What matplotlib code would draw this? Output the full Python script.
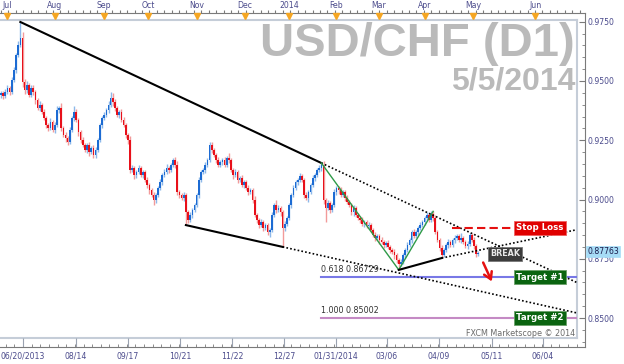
import numpy as np
import matplotlib.pyplot as plt
from matplotlib.ticker import FixedLocator, MultipleLocator
import matplotlib.transforms as mtransforms

# USD/CHF daily bars, end of Jun 2013 -> 5 May 2014
first_open = 0.9440
closes = [
    0.9449, 0.9437, 0.9454, 0.9470, 0.9454, 0.9504, 0.9546, 0.9610, 0.9652, 0.9681,
    0.9496, 0.9462, 0.9483, 0.9441, 0.9470, 0.9454, 0.9420, 0.9386, 0.9399, 0.9369,
    0.9344, 0.9314, 0.9302, 0.9327, 0.9293, 0.9314, 0.9378, 0.9386, 0.9302, 0.9272,
    0.9259, 0.9243, 0.9293, 0.9344, 0.9369, 0.9335, 0.9285, 0.9251, 0.9230, 0.9209,
    0.9230, 0.9200, 0.9217, 0.9188, 0.9209, 0.9251, 0.9314, 0.9344, 0.9357, 0.9378,
    0.9399, 0.9429, 0.9411, 0.9386, 0.9357, 0.9369, 0.9335, 0.9314, 0.9272, 0.9251,
    0.9124, 0.9133, 0.9103, 0.9116, 0.9133, 0.9103, 0.9116, 0.9082, 0.9061, 0.9040,
    0.9019, 0.8998, 0.9019, 0.9048, 0.9074, 0.9103, 0.9116, 0.9133, 0.9124, 0.9146,
    0.9167, 0.9146, 0.9032, 0.9019, 0.9006, 0.9019, 0.8947, 0.8914, 0.8935, 0.8956,
    0.8977, 0.9019, 0.9082, 0.9116, 0.9124, 0.9146, 0.9167, 0.9230, 0.9209, 0.9188,
    0.9167, 0.9146, 0.9158, 0.9167, 0.9146, 0.9175, 0.9167, 0.9124, 0.9103, 0.9116,
    0.9082, 0.9091, 0.9061, 0.9074, 0.9048, 0.9032, 0.9040, 0.8998, 0.8935, 0.8914,
    0.8892, 0.8905, 0.8880, 0.8892, 0.8863, 0.8871, 0.8935, 0.8977, 0.8956, 0.8964,
    0.8947, 0.8880, 0.8897, 0.8922, 0.8977, 0.9019, 0.9048, 0.9074, 0.9082, 0.9099,
    0.9082, 0.9019, 0.9006, 0.9032, 0.9061, 0.9091, 0.9103, 0.9124, 0.9133, 0.9146,
    0.8998, 0.8964, 0.8985, 0.8956, 0.8977, 0.9032, 0.9048, 0.9040, 0.9019, 0.9032,
    0.9006, 0.8989, 0.8977, 0.8947, 0.8964, 0.8935, 0.8922, 0.8914, 0.8897, 0.8905,
    0.8888, 0.8892, 0.8871, 0.8850, 0.8838, 0.8846, 0.8829, 0.8821, 0.8808, 0.8816,
    0.8800, 0.8787, 0.8778, 0.8766, 0.8745, 0.8728, 0.8736, 0.8766, 0.8787, 0.8808,
    0.8829, 0.8863, 0.8846, 0.8863, 0.8880, 0.8892, 0.8905, 0.8922, 0.8935, 0.8914,
    0.8940, 0.8922, 0.8863, 0.8829, 0.8795, 0.8766, 0.8787, 0.8808, 0.8821, 0.8808,
    0.8829, 0.8838, 0.8846, 0.8829, 0.8838, 0.8821, 0.8804, 0.8812, 0.8850, 0.8829,
    0.8804, 0.8768, 0.8776,
]
# shadows above / below the body, in pips
wick_up = [
    10, 8, 12, 15, 10, 12, 15, 10, 18, 68, 25, 12, 15, 10, 14, 12, 8, 10, 15, 10,
    12, 8, 10, 15, 10, 12, 18, 8, 20, 10, 12, 8, 15, 10, 25, 12, 10, 8, 12, 10,
    10, 12, 8, 15, 12, 10, 10, 8, 12, 10, 15, 25, 20, 12, 8, 10, 12, 15, 10, 8,
    15, 12, 10, 8, 12, 10, 8, 10, 12, 8, 10, 12, 10, 8, 12, 10, 12, 15, 10, 8,
    8, 12, 15, 10, 8, 12, 10, 8, 12, 10, 8, 10, 12, 8, 10, 12, 8, 13, 12, 10,
    8, 12, 10, 8, 12, 10, 20, 8, 10, 12, 8, 10, 12, 8, 10, 12, 10, 8, 15, 10,
    8, 12, 10, 8, 10, 8, 12, 10, 21, 12, 10, 8, 12, 10, 8, 10, 12, 8, 10, 12,
    10, 8, 12, 10, 8, 12, 10, 8, 12, 8, 15, 10, 12, 8, 10, 12, 10, 8, 12, 10,
    8, 12, 10, 8, 12, 10, 8, 10, 12, 8, 10, 12, 8, 10, 12, 8, 10, 12, 8, 10,
    12, 8, 10, 12, 8, 10, 12, 8, 10, 12, 8, 10, 12, 8, 10, 12, 8, 10, 12, 8,
    10, 10, 12, 8, 10, 12, 8, 10, 12, 8, 10, 12, 8, 8, 21, 8, 10, 12, 8, 10,
    12, 8, 6,
]
wick_dn = [
    12, 15, 10, 8, 12, 10, 8, 12, 10, 8, 20, 15, 12, 10, 8, 12, 15, 10, 12, 8,
    10, 12, 15, 10, 8, 12, 10, 15, 12, 10, 15, 12, 10, 8, 12, 10, 15, 12, 8, 10,
    12, 15, 10, 12, 15, 10, 8, 12, 10, 8, 12, 10, 15, 12, 10, 12, 8, 10, 12, 15,
    12, 10, 15, 12, 10, 8, 12, 10, 12, 15, 10, 21, 12, 10, 8, 12, 10, 8, 12, 10,
    8, 12, 15, 12, 10, 12, 55, 15, 10, 12, 8, 10, 12, 8, 10, 12, 10, 8, 12, 10,
    12, 10, 8, 12, 10, 8, 12, 10, 15, 8, 12, 10, 8, 12, 10, 15, 8, 12, 10, 15,
    12, 10, 15, 8, 12, 21, 10, 8, 12, 10, 15, 80, 12, 10, 8, 12, 10, 8, 12, 10,
    8, 12, 10, 15, 8, 10, 12, 8, 10, 12, 15, 59, 10, 12, 8, 10, 12, 15, 10, 8,
    12, 10, 8, 12, 15, 10, 8, 12, 10, 15, 8, 12, 10, 8, 12, 10, 15, 8, 12, 10,
    8, 12, 10, 15, 12, 25, 10, 8, 12, 10, 8, 12, 10, 8, 12, 10, 8, 12, 10, 8,
    8, 12, 10, 8, 12, 13, 10, 8, 12, 10, 8, 12, 10, 8, 12, 10, 8, 12, 10, 8,
    12, 10, 6,
]

# trend lines (bar index, price)
upper_bars = [9, 149, 268]
upper_prices = [0.9749, 0.9154, 0.8649]
lower_bars = [86, 131, 268]
lower_prices = [0.8892, 0.8800, 0.8521]
wave_bars = [149, 185, 201]
wave_prices = [0.9154, 0.8703, 0.8950]
wedge_bars = [185, 205, 267]
wedge_prices = [0.8703, 0.8753, 0.8871]

stop_loss = 0.8880
fib_levels = [0.86729, 0.85002]
fib_labels = ['0.618 0.86729', '1.000 0.85002']
fib_colors = ['#7878e6', '#c48ac4']
target_names = ['Target #1', 'Target #2']
last_price = 0.87763

month_names = ['Jul', 'Aug', 'Sep', 'Oct', 'Nov', 'Dec', '2014', 'Feb', 'Mar', 'Apr', 'May', 'Jun']
month_bars = [2.8, 25.1, 47.9, 68.4, 91.2, 113.5, 134.0, 155.8, 175.8, 197.2, 219.5, 248.4]
date_labels = ['06/20/2013', '08/14', '09/17', '10/21', '11/22', '12/27',
               '01/31/2014', '03/06', '04/09', '05/11', '06/04']
date_bars = [10.2, 34.9, 59.1, 83.3, 107.4, 131.6, 155.8, 179.5, 203.7, 228.4, 252.1]
price_ticks = [0.850, 0.875, 0.900, 0.925, 0.950, 0.975]

W, H = 624, 364
PX = 2.15  # pixels per bar


def px_bar(p):
    return (p - 1) / PX


def px_price(y):
    return 0.85 + (318 - y) / 2370


def box(x0, y0, x1, y1):
    return [x0 / W, 1 - y1 / H, (x1 - x0) / W, (y1 - y0) / H]


TXT = '#4b4b8c'
GRID = '#7a7a7a'

fig = plt.figure(figsize=(W / 100, H / 100), dpi=100)
fig.patch.set_facecolor('white')

# ---- main price panel
ax = fig.add_axes(box(0, 20, 577, 338))
ax.set_xlim(px_bar(0), px_bar(577))
ax.set_ylim(px_price(338), px_price(20))
ax.set_xticks([])
ax.set_yticks([])
ax.spines['left'].set_visible(False)
for s in ['top', 'right', 'bottom']:
    ax.spines[s].set_color('#c5cdd8')
    ax.spines[s].set_linewidth(1.5)

c = np.array(closes)
o = np.array([first_open] + closes[:-1])
hi = np.maximum(o, c) + np.array(wick_up) * 0.0001
lo = np.minimum(o, c) - np.array(wick_dn) * 0.0001
x = np.arange(len(c))
up = c >= o

ax.vlines(x[up], lo[up], hi[up], color='#8db8ea', lw=1.0, zorder=2)
ax.vlines(x[~up], lo[~up], hi[~up], color='#f29a9a', lw=1.0, zorder=2)
ax.bar(x[up], (c - o)[up], bottom=o[up], width=0.75, color='#1c6bd3', lw=0, zorder=3)
ax.bar(x[~up], (c - o)[~up], bottom=o[~up], width=0.75, color='#e8101a', lw=0, zorder=3)

# trend lines
ax.plot(upper_bars[:2], upper_prices[:2], color='black', lw=1.5, zorder=4)
ax.plot(upper_bars[1:], upper_prices[1:], color='black', lw=1.2, dashes=(1, 1.3), zorder=4)
ax.plot(lower_bars[:2], lower_prices[:2], color='black', lw=1.5, zorder=4)
ax.plot(lower_bars[1:], lower_prices[1:], color='black', lw=1.2, dashes=(1, 1.3), zorder=4)
ax.plot(wave_bars, wave_prices, color='#2e9a48', lw=1.0, zorder=4)
ax.plot(wedge_bars[:2], wedge_prices[:2], color='black', lw=1.5, zorder=4)
ax.plot(wedge_bars[1:], wedge_prices[1:], color='black', lw=1.2, dashes=(1, 1.3), zorder=4)

# stop loss
ax.plot([px_bar(452), px_bar(513)], [stop_loss, stop_loss], color='#e51010', lw=1.5,
        dashes=(4, 2), zorder=4)
ax.text(px_bar(540), stop_loss, 'Stop Loss', ha='center', va='center', fontsize=6.2,
        fontweight='bold', color='white', zorder=6,
        bbox=dict(boxstyle='square,pad=0.25', fc='#e00000', ec='#f06060', lw=0.6))

# break label and arrow
ax.text(px_bar(505), px_price(254), 'BREAK', ha='center', va='center', fontsize=5.8,
        fontweight='bold', color='#e8e8e8', zorder=6,
        bbox=dict(boxstyle='square,pad=0.25', fc='#3c3c3c', ec='#777777', lw=0.6))
ax.annotate('', xy=(px_bar(493), px_price(284)), xytext=(px_bar(482), px_price(260)),
            arrowprops=dict(arrowstyle='->,head_length=0.5,head_width=0.3', color='#e51010', lw=1.8),
            zorder=6)

# fibonacci targets
for lvl, lab, col, name in zip(fib_levels, fib_labels, fib_colors, target_names):
    ax.plot([px_bar(321), px_bar(577)], [lvl, lvl], color=col, lw=1.5, zorder=3)
    ax.text(px_bar(321), lvl + 0.0011, lab, ha='left', va='bottom', fontsize=5.8,
            color='#333333', zorder=5)
    ax.text(px_bar(540), lvl, name, ha='center', va='center', fontsize=6.2,
            fontweight='bold', color='white', zorder=6,
            bbox=dict(boxstyle='square,pad=0.25', fc='#0a6410', ec='#6aa06a', lw=0.6))

# ---- top month ruler
axt = fig.add_axes(box(0, 0, 585, 13))
axt.set_xlim(px_bar(0), px_bar(585))
axt.set_ylim(0, 1)
axt.patch.set_alpha(0)
for s in ['top', 'left', 'right']:
    axt.spines[s].set_visible(False)
axt.spines['bottom'].set_color(GRID)
axt.set_yticks([])
axt.xaxis.set_major_locator(MultipleLocator(3.45))
axt.tick_params(axis='x', direction='in', length=2.2, color=GRID, labelbottom=False)
axt.plot(month_bars, [-0.25] * len(month_bars), 'v', color='#f5a623', ms=4.5,
         clip_on=False, zorder=5)
for name, xb in zip(month_names, month_bars):
    axt.text(xb, 0.55, name, ha='center', va='center', fontsize=5.6, color=TXT)

# ---- bottom date ruler
axb = fig.add_axes(box(0, 338, 585, 347))
axb.set_xlim(px_bar(0), px_bar(585))
axb.set_ylim(0, 1)
axb.patch.set_alpha(0)
for s in ['top', 'left', 'right']:
    axb.spines[s].set_visible(False)
axb.spines['bottom'].set_color(GRID)
axb.set_yticks([])
axb.set_xticks(date_bars)
axb.set_xticklabels(date_labels)
axb.xaxis.set_minor_locator(FixedLocator(np.arange(date_bars[0] - 24.15, 275, 24.15 / 6)))
axb.tick_params(axis='x', which='major', direction='in', length=6.5, color='#9aa2b0',
                pad=3.5, labelsize=5.6, labelcolor=TXT)
axb.tick_params(axis='x', which='minor', direction='in', length=2, color=GRID)

# ---- right price scale
axr = fig.add_axes(box(577, 13, 585, 347))
axr.set_ylim(px_price(347), px_price(13))
axr.patch.set_alpha(0)
axr.set_xticks([])
for s in ['top', 'left', 'bottom']:
    axr.spines[s].set_visible(False)
axr.spines['right'].set_color(GRID)
axr.yaxis.tick_right()
axr.set_yticks(price_ticks)
axr.set_yticklabels(['%.4f' % p for p in price_ticks])
axr.yaxis.set_minor_locator(MultipleLocator(0.005))
axr.tick_params(axis='y', which='major', direction='in', length=4, color=GRID, pad=2,
                labelsize=5.6, labelcolor=TXT)
axr.tick_params(axis='y', which='minor', direction='in', length=2.2, color=GRID)
trans = mtransforms.blended_transform_factory(axr.transAxes, axr.transData)
axr.text(1.25, last_price + 0.0003, '%.5f' % last_price, transform=trans, ha='left',
         va='center', fontsize=5.6, color='#1a1a4a', zorder=10, clip_on=False,
         bbox=dict(boxstyle='square,pad=0.15', fc='#a6dcf6', ec='#a6dcf6', lw=0.5))

# ---- watermark titles
fig.text(575 / W, 1 - 56 / H, 'USD/CHF (D1)', ha='right', va='baseline', fontsize=34,
         fontweight='bold', family='Liberation Sans', color='#bababa')
fig.text(575 / W, 1 - 90 / H, '5/5/2014', ha='right', va='baseline', fontsize=23,
         fontweight='bold', family='Liberation Sans', color='#bababa')
fig.text(575 / W, 1 - 336 / H, 'FXCM Marketscope \u00a9 2014', ha='right', va='baseline',
         fontsize=5.8, color='#6a6a6a')

fig.savefig('out.png', dpi=100, facecolor='white')
